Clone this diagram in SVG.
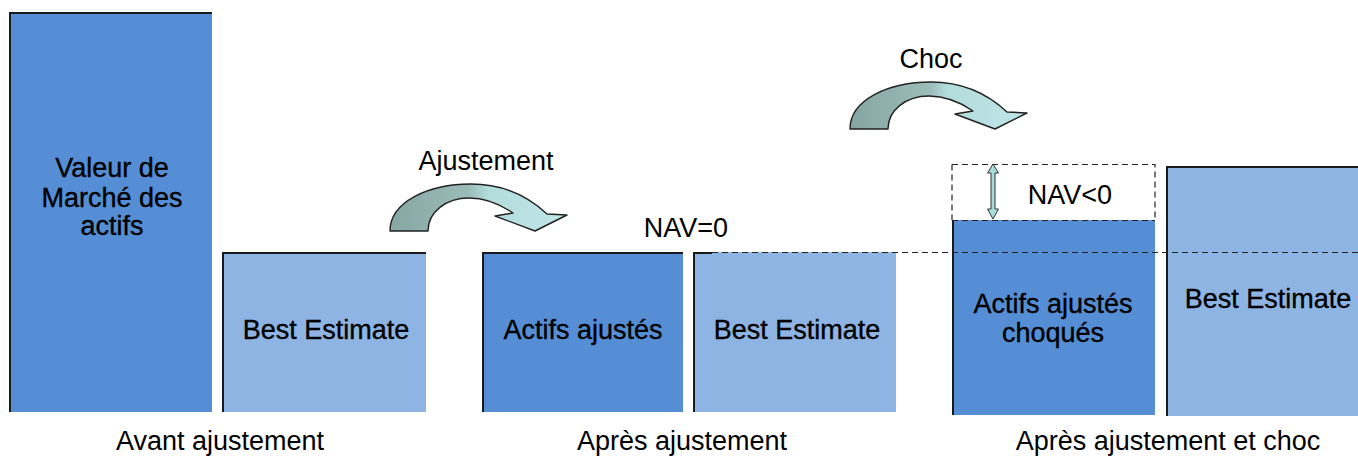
<svg xmlns="http://www.w3.org/2000/svg" width="1358" height="457" viewBox="0 0 1358 457">
<defs>
<linearGradient id="arrowGrad" x1="0" y1="0" x2="1" y2="0">
<stop offset="0" stop-color="#86a6a4"/>
<stop offset="0.45" stop-color="#9cbcba"/>
<stop offset="0.55" stop-color="#b3dcdd"/>
<stop offset="1" stop-color="#bfe6e8"/>
</linearGradient>
<path id="curvedArrow" d="M390,231 C390,202 428,184 471,184 C505,184 530,198 547,214 L567,215 L535,231 L495,216 L513,213 C500,204 486,198 469,198 C446,198 428,212 428,231 Z"/>
</defs>
<style>
.dark{fill:#558ed5;}
.light{fill:#8eb4e3;}
.edge{stroke:#1a1a1a;stroke-width:2;fill:none;}
.txt{font-family:"Liberation Sans",Arial,sans-serif;font-size:27px;fill:#000;text-anchor:middle;}
.box{stroke:#000;stroke-width:0.35;}
.dash{stroke:#222;stroke-width:1.2;stroke-dasharray:6,4;fill:none;}
.arrow{fill:url(#arrowGrad);stroke:#222;stroke-width:1.4;stroke-linejoin:round;}
</style>
<rect width="1358" height="457" fill="#fff"/>

<g id="valeur-marche">
<rect class="dark" x="9" y="12" width="203" height="400"/>
<path class="edge" d="M10,412 V13 H212"/>
<text class="txt box" x="112" y="177">Valeur de</text>
<text class="txt box" x="112" y="207">Marché des</text>
<text class="txt box" x="112" y="235">actifs</text>
</g>

<g id="best-estimate-1">
<rect class="light" x="222" y="252" width="204" height="160"/>
<path class="edge" d="M223,412 V253 H426"/>
<text class="txt box" x="326" y="339">Best Estimate</text>
</g>

<g id="label-avant">
<text class="txt" x="220" y="450">Avant ajustement</text>
</g>

<g id="actifs-ajustes">
<rect class="dark" x="482" y="252" width="201" height="160"/>
<path class="edge" d="M483,412 V253 H683"/>
<text class="txt box" x="583" y="339">Actifs ajustés</text>
</g>

<g id="best-estimate-2">
<rect class="light" x="693" y="252" width="203" height="160"/>
<path class="edge" d="M694,412 V253 H712"/>
<text class="txt box" x="797" y="339">Best Estimate</text>
</g>

<g id="nav0">
<text class="txt" x="686" y="237">NAV=0</text>
</g>

<g id="label-apres">
<text class="txt" x="682" y="450">Après ajustement</text>
</g>

<g id="nav-negatif">
<rect x="952" y="164" width="203" height="56" fill="#fff"/>
<path class="dash" d="M952,164.5 H1155 V220 M952,164.5 V220"/>
<text class="txt" x="1070" y="204">NAV&lt;0</text>
</g>

<g id="actifs-choques">
<rect class="dark" x="952" y="220" width="203" height="195"/>
<path class="edge" d="M953,415 V220"/>
<path class="dash" d="M952,220.5 H1155"/>
<text class="txt box" x="1053" y="313">Actifs ajustés</text>
<text class="txt box" x="1053" y="342">choqués</text>
</g>

<g id="best-estimate-3">
<rect class="light" x="1166" y="166" width="192" height="250"/>
<path class="edge" d="M1167,416 V167 H1358"/>
<text class="txt box" x="1268" y="308">Best Estimate</text>
</g>

<g id="label-apres-choc">
<text class="txt" x="1168" y="450">Après ajustement et choc</text>
</g>

<g id="titles">
<text class="txt" x="486" y="170">Ajustement</text>
<text class="txt" x="931" y="68">Choc</text>
</g>

<g id="connectors">
<path class="dash" d="M712,252.5 H1358"/>
<use href="#curvedArrow" class="arrow"/>
<use href="#curvedArrow" class="arrow" transform="translate(460,-102)"/>
<path d="M993,164 L998.5,173 L995,173 L995,209 L998.5,209 L993,219 L987.5,209 L991,209 L991,173 L987.5,173 Z" fill="#a8dcdc" stroke="#333" stroke-width="1"/>
</g>
</svg>
